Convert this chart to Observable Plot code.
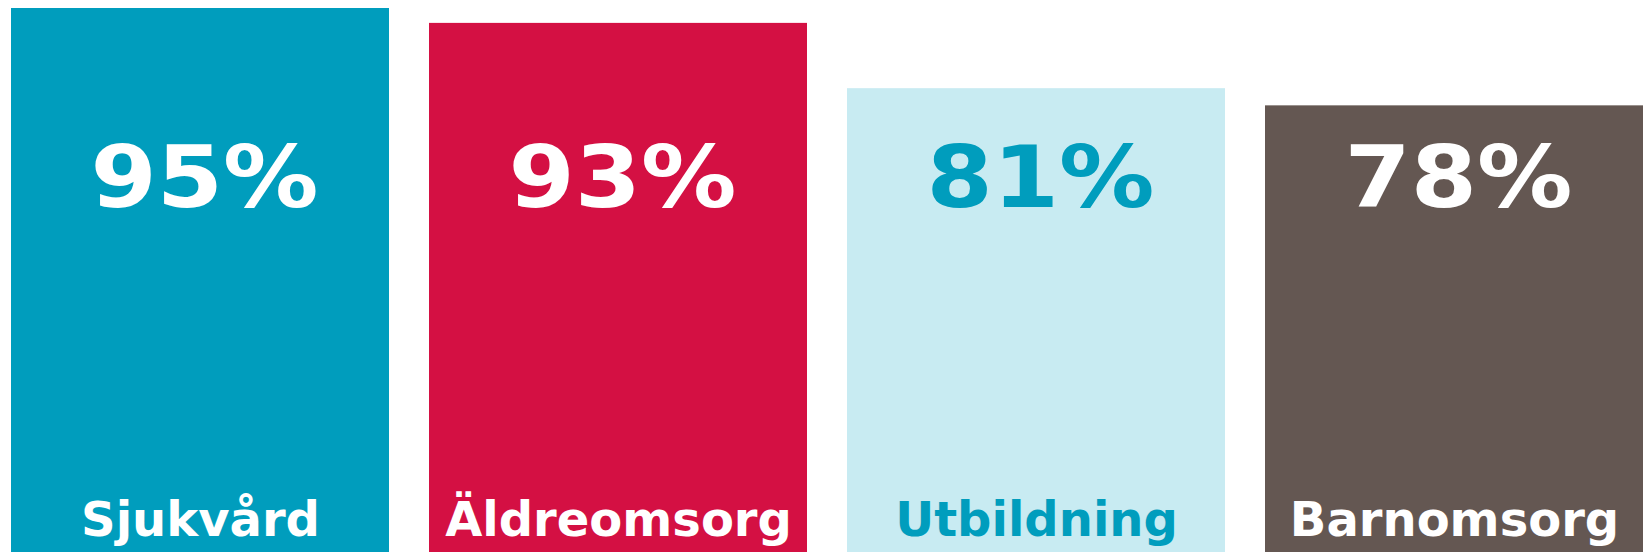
<!DOCTYPE html>
<html>
<head>
<meta charset="utf-8">
<script src="https://cdn.jsdelivr.net/npm/d3@7"></script>
<script src="https://cdn.jsdelivr.net/npm/@observablehq/plot@0.6"></script>
<style>
  html, body { margin: 0; padding: 0; background: #ffffff; }
  svg { display: block; }
</style>
</head>
<body>
<div id="chart"></div>
<script>
const categories = ["Sjukvård", "Äldreomsorg", "Utbildning", "Barnomsorg"];
const values = [95, 92.4, 81, 78];
const valueLabels = ["95%", "93%", "81%", "78%"];
const barColors = ["#009dbd", "#d41043", "#c8ebf2", "#645752"];
const textColors = ["#ffffff", "#ffffff", "#009dbd", "#ffffff"];

const data = categories.map((c, i) => ({
  category: c,
  value: values[i],
  label: valueLabels[i],
  bar: barColors[i],
  text: textColors[i]
}));

const chart = Plot.plot({
  width: 1645,
  height: 552,
  marginTop: 8,
  marginBottom: 0,
  marginLeft: 10,
  marginRight: 2,
  style: { background: "#ffffff" },
  x: { domain: categories, padding: 0.0964, paddingOuter: 0, axis: null },
  y: { domain: [0, 95], axis: null },
  color: { type: "identity" },
  marks: [
    Plot.barY(data, { x: "category", y: "value", fill: "bar" }),
    Plot.text(data, {
      x: "category",
      text: "label",
      fill: "text",
      frameAnchor: "top",
      lineAnchor: "bottom",
      dy: 198,
      dx: 4,
      fontFamily: "DejaVu Sans",
      fontWeight: "bold",
      fontSize: 85
    }),
    Plot.text(data, {
      x: "category",
      text: "category",
      fill: "text",
      frameAnchor: "bottom",
      lineAnchor: "bottom",
      dy: -17,
      fontFamily: "DejaVu Sans",
      fontWeight: "bold",
      fontSize: 48
    })
  ]
});

// widen the percentage glyphs (reference font is Verdana-like, wider than DejaVu)
d3.select(chart)
  .selectAll('g[aria-label="text"]')
  .filter((d, i) => i === 0)
  .selectAll("text")
  .attr("textLength", 228)
  .attr("lengthAdjust", "spacingAndGlyphs");

document.getElementById("chart").appendChild(chart);
</script>
</body>
</html>
